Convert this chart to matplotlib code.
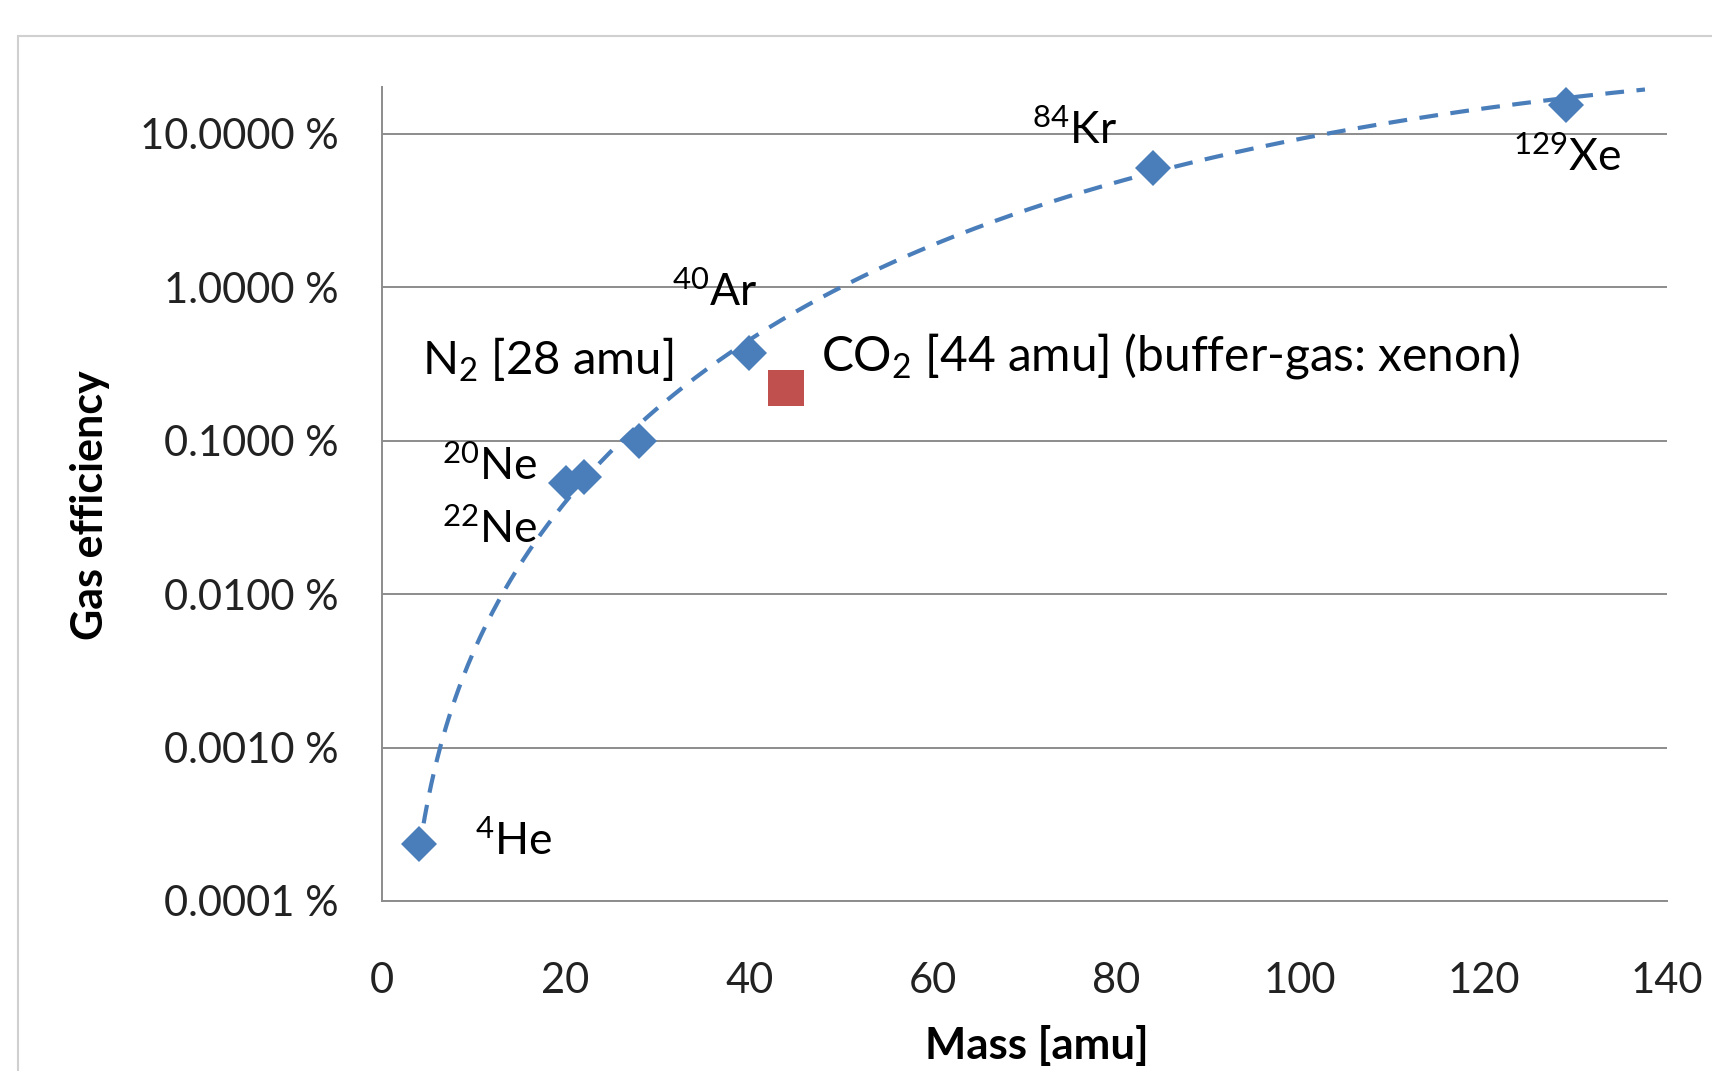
import numpy as np
import matplotlib
matplotlib.use("Agg")
import matplotlib.pyplot as plt
from matplotlib.patches import Rectangle

plt.rcParams['font.family'] = ['Lato', 'DejaVu Sans']
plt.rcParams['mathtext.fontset'] = 'custom'
plt.rcParams['mathtext.rm'] = 'Lato'
plt.rcParams['mathtext.it'] = 'Lato:italic'
plt.rcParams['mathtext.bf'] = 'Lato:bold'

#___Data___#
gas_mass = [4, 20, 22, 28, 40, 84, 129]
gas_eff = [2.37e-4, 0.0527, 0.0582, 0.099, 0.371, 5.96, 15.4]   # percent
co2_mass = [44]
co2_eff = [0.219]

# points
trend_mass = [4.35, 4.8, 6.6, 8.1, 13.0, 16.4, 20, 23.1, 28.1, 37.3, 41.5,
              49.8, 62.3, 67.3, 80.7, 84.1, 87.1, 99.0, 111.9, 121.8, 129.0, 137.6]
trend_eff = [3.0e-4, 3.9e-4, 1.0e-3, 2.04e-3, 1.0e-2, 0.0225, 0.052, 0.0673,
             0.117, 0.32, 0.45, 0.91, 1.75, 3.05, 5.64, 5.98, 6.95, 9.82,
             12.7, 15.0, 15.9, 18.2]

ytick_vals = [1e-4, 1e-3, 1e-2, 1e-1, 1, 10]
ytick_labels = ['0.0001 %', '0.0010 %', '0.0100 %', '0.1000 %', '1.0000 %', '10.0000 %']
xtick_vals = [0, 20, 40, 60, 80, 100, 120, 140]

blue = '#4a7ebb'
red = '#c0504d'
grid_c = '#8c8c8c'

#___Figure___#
fig = plt.figure(figsize=(17.12, 10.71), dpi=100)
fig.patches.append(Rectangle((18/1712, -0.1), 1.2, 1.1 - 36/1071,
                             transform=fig.transFigure, fill=False,
                             edgecolor='#d0d0d0', lw=1.5))
ax = fig.add_axes([382/1712, 1 - 901/1071, (1667 - 382)/1712, (901 - 87)/1071])

# smooth trend curve (fit of the read curve points in log-log)
coef = np.polyfit(np.log10(trend_mass), np.log10(trend_eff), 4)
xs = np.linspace(4.0, trend_mass[-1], 400)
ax.plot(xs, 10 ** np.polyval(coef, np.log10(xs)), color=blue, lw=3,
        dashes=(4.5, 3), zorder=2)
ax.plot(gas_mass, gas_eff, 'D', color=blue, ms=18.5, mew=0, zorder=3)
ax.plot(co2_mass, co2_eff, 's', color=red, ms=26, mew=0, zorder=3)

ax.set_yscale('log')
ax.set_ylim(1e-4, 20.2)
ax.set_xlim(0, 140)
ax.set_yticks(ytick_vals)
ax.set_yticklabels(ytick_labels)
ax.yaxis.set_minor_locator(matplotlib.ticker.NullLocator())
ax.set_xticks(xtick_vals)
ax.set_xticklabels([str(v) for v in xtick_vals])
ax.tick_params(axis='y', length=0, pad=31, labelsize=30, labelcolor='#222222')
ax.tick_params(axis='x', length=0, pad=44, labelsize=30, labelcolor='#222222')
ax.grid(axis='y', color=grid_c, lw=1.4)
ax.set_axisbelow(True)
for s in ['top', 'right']:
    ax.spines[s].set_visible(False)
for s in ['left', 'bottom']:
    ax.spines[s].set_color(grid_c)
    ax.spines[s].set_linewidth(1.4)

#___Labels___#
fs = 32
ax.text(10.1, 2.45e-4, r'$^{4}$He', fontsize=fs, ha='left', va='center')
ax.text(16.9, 0.068, r'$^{20}$Ne', fontsize=fs, ha='right', va='center')
ax.text(16.9, 0.0261, r'$^{22}$Ne', fontsize=fs, ha='right', va='center')
ax.text(36.3, 0.916, r'$^{40}$Ar', fontsize=fs, ha='center', va='center')
ax.text(75.5, 10.4, r'$^{84}$Kr', fontsize=fs, ha='center', va='center')
ax.text(129.1, 6.95, r'$^{129}$Xe', fontsize=fs, ha='center', va='center')
ax.text(18.0, 0.336, r'N$_2$ [28 amu]', fontsize=34, ha='center', va='center')
ax.text(47.8, 0.356, r'CO$_2$ [44 amu] (buffer-gas: xenon)', fontsize=34.5,
        ha='left', va='center')

fig.text(90/1712, 1 - 505/1071, 'Gas efficiency', rotation=90, fontsize=31,
         fontweight='bold', ha='center', va='center')
fig.text(1037/1712, 1 - 1046/1071, 'Mass [amu]', fontsize=31.5,
         fontweight='bold', ha='center', va='center')

fig.savefig('out.png', dpi=100)
